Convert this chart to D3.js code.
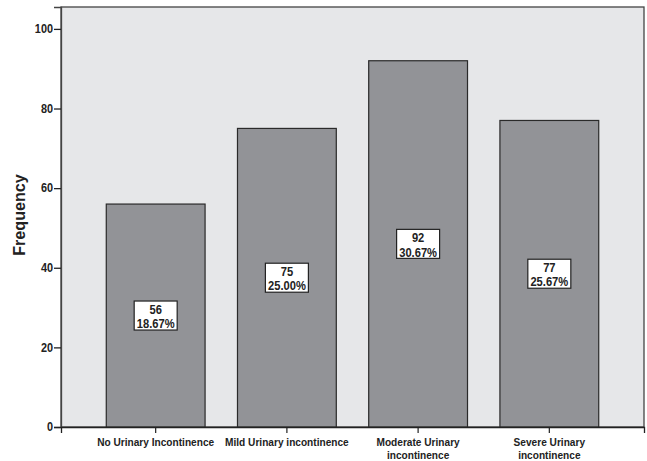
<!DOCTYPE html>
<html><head><meta charset="utf-8">
<script src="https://cdn.jsdelivr.net/npm/d3@7"></script>
<style>
body{margin:0;background:#fff;}
text{font-family:"Liberation Sans Narrow","Arial Narrow","Liberation Sans",Arial,sans-serif;font-weight:bold;fill:#222;}
</style></head>
<body><svg id="chart" width="647" height="461"></svg>
<script>
const categories = [["No Urinary Incontinence"], ["Mild Urinary incontinence"], ["Moderate Urinary", "incontinence"], ["Severe Urinary", "incontinence"]];
const counts = [56, 75, 92, 77];
const percents = ["18.67%", "25.00%", "30.67%", "25.67%"];
const yTicks = [0, 20, 40, 60, 80, 100];

const svg = d3.select("#chart");
const L = 61, R = 644, T = 7, B = 427;
const y = d3.scaleLinear().domain([0, 105.5]).range([B, T]);
const x = d3.scaleBand().domain(d3.range(categories.length)).range([L, R]).paddingInner(0.247).paddingOuter(0.345);

function narrowText(parent, px, py, lines, size, anchor, lh, sx) {
  const g = parent.append("g").attr("transform", `translate(${px},${py}) scale(${sx},1)`);
  const t = g.append("text").attr("text-anchor", anchor || "middle").attr("font-size", size);
  lines.forEach((ln, k) => t.append("tspan").attr("x", 0).attr("dy", k ? lh : 0).text(ln));
  return g;
}

svg.append("rect").attr("x", L).attr("y", T).attr("width", R - L).attr("height", B - T)
  .attr("fill", "#e6e7e9").attr("stroke", "#444").attr("stroke-width", 1.3);

svg.selectAll("rect.bar").data(counts).join("rect").attr("class", "bar")
  .attr("x", (d, i) => x(i)).attr("width", x.bandwidth())
  .attr("y", d => y(d)).attr("height", d => B - y(d))
  .attr("fill", "#929397").attr("stroke", "#2a2a2a").attr("stroke-width", 1.2);

const yAxis = svg.append("g").attr("transform", `translate(${L},0)`)
  .call(d3.axisLeft(y).tickValues(yTicks).tickSize(7).tickFormat(""));
yAxis.select(".domain").attr("stroke", "#444").attr("stroke-width", 1.3);
yAxis.selectAll(".tick line").attr("stroke", "#222").attr("stroke-width", 1.3);
yTicks.forEach(v => narrowText(svg, L - 8, y(v) + 4.3, [String(v)], 12.5, "end", 0, 0.87));

const xAxis = svg.append("g").attr("transform", `translate(0,${B})`)
  .call(d3.axisBottom(x).tickSize(6).tickFormat(""));
xAxis.select(".domain").attr("stroke", "#222").attr("stroke-width", 1.3);
xAxis.selectAll(".tick line").attr("stroke", "#222").attr("stroke-width", 1.2);

categories.forEach((lines, i) => {
  narrowText(svg, x(i) + x.bandwidth() / 2, 445.5, lines, 11.5, "middle", 14, 0.88);
});

svg.append("g").attr("transform", "translate(25,215) rotate(-90) scale(0.95,1)")
  .append("text").attr("text-anchor", "middle").attr("font-size", 17).text("Frequency");

counts.forEach((c, i) => {
  const cx = x(i) + x.bandwidth() / 2;
  const cy = (y(c) + B) / 2;
  svg.append("rect").attr("x", cx - 21.5).attr("y", cy - 14.5).attr("width", 43).attr("height", 29)
    .attr("fill", "#fff").attr("stroke", "#222").attr("stroke-width", 1.2);
  narrowText(svg, cx, cy - 1.8, [String(c), percents[i]], 12, "middle", 14.5, 0.93);
});
</script></body></html>
